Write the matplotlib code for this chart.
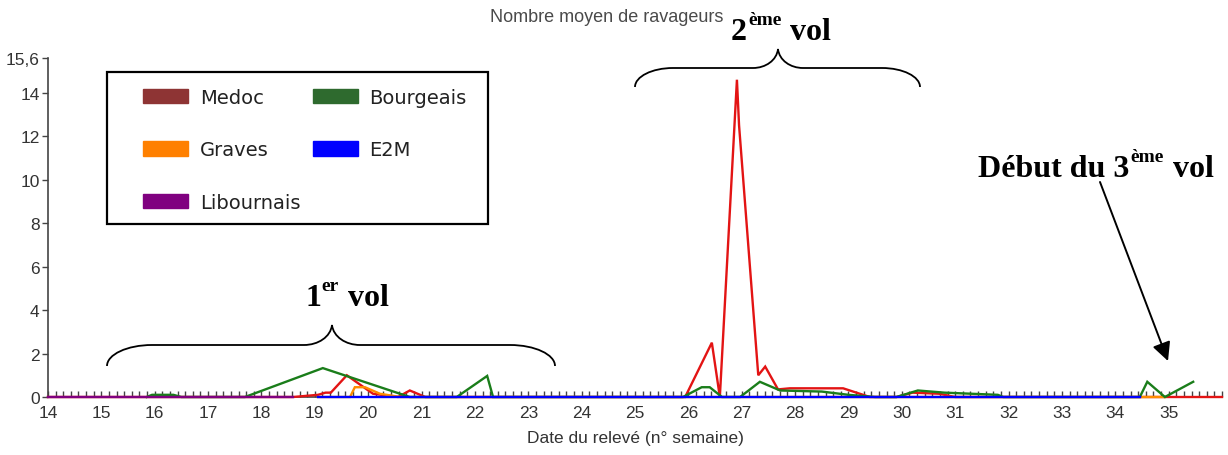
import matplotlib
matplotlib.use('Agg')
import matplotlib.pyplot as plt
from matplotlib.patches import Patch, FancyArrowPatch, PathPatch, Rectangle
from matplotlib.path import Path
from matplotlib.ticker import MultipleLocator

# ---------------- data ----------------
medoc_x = [14.0, 18.59, 19.06, 19.2, 19.3, 19.6, 20.09, 20.56, 20.78, 21.07,
           25.94, 26.44, 26.59, 26.91, 26.95, 27.31, 27.44, 27.68, 27.9, 28.9,
           29.4, 29.9, 30.2, 30.7, 31.0, 36.0]
medoc_y = [0, 0, 0.1, 0.2, 0.2, 1.0, 0.15, 0.0, 0.3, 0.0,
           0.0, 2.5, 0.0, 14.6, 12.5, 1.0, 1.4, 0.35, 0.4, 0.4,
           0.0, 0.0, 0.2, 0.15, 0.0, 0.0]

bourgeais_x = [15.85, 15.95, 16.35, 16.5, 17.69, 19.15, 20.78, 21.66, 22.23, 22.34,
               25.9, 26.25, 26.4, 26.63, 26.97, 27.34, 27.72, 28.5, 29.0, 29.5,
               29.9, 30.3, 30.8, 31.8, 31.9, 34.46, 34.6, 34.93, 35.46]
bourgeais_y = [0, 0.1, 0.1, 0, 0, 1.33, 0, 0, 0.97, 0,
               0, 0.45, 0.45, 0, 0, 0.7, 0.3, 0.25, 0.1, 0,
               0, 0.3, 0.2, 0.1, 0, 0, 0.7, 0, 0.7]

graves_x = [19.06, 19.66, 19.75, 19.94, 20.22, 20.6, 34.93]
graves_y = [0, 0, 0.45, 0.45, 0.15, 0, 0]

e2m_x = [19.06, 34.46]
e2m_y = [0, 0]

libournais_x = [14.0, 18.59]
libournais_y = [0, 0]

series_names = ['Medoc', 'Graves', 'Bourgeais', 'Libournais', 'E2M']
line_colors = ['#E31414', '#FF8C00', '#1A7D1A', '#800080', '#0000FF']
legend_colors = {'Medoc': '#8E3434', 'Bourgeais': '#2E6A2E', 'Graves': '#FF8000',
                 'E2M': '#0000FF', 'Libournais': '#800080'}
legend_order = ['Medoc', 'Graves', 'Libournais', 'Bourgeais', 'E2M']

y_ticks = [0, 2, 4, 6, 8, 10, 12, 14, 15.6]
y_ticklabels = ['0', '2', '4', '6', '8', '10', '12', '14', '15,6']
x_ticks = list(range(14, 36))

# ---------------- figure ----------------
W, H = 1228, 456
fig = plt.figure(figsize=(W / 100, H / 100), dpi=100)
fig.patch.set_facecolor('white')

def fx(px):
    return px / W

def fy(py):
    return 1 - py / H

ax = fig.add_axes([fx(48), fy(398), (1222 - 48) / W, (398 - 59) / H])

data = {
    'Medoc': (medoc_x, medoc_y),
    'Graves': (graves_x, graves_y),
    'Bourgeais': (bourgeais_x, bourgeais_y),
    'Libournais': (libournais_x, libournais_y),
    'E2M': (e2m_x, e2m_y),
}
for i, (name, col) in enumerate(zip(series_names, line_colors)):
    xs, ys = data[name]
    ax.plot(xs, ys, color=col, lw=1.7, clip_on=False, zorder=3 + i,
            solid_joinstyle='miter')

ax.set_xlim(14, 36)
ax.set_ylim(0, 15.6)
for s in ['top', 'right']:
    ax.spines[s].set_visible(False)
for s in ['left', 'bottom']:
    ax.spines[s].set_color('#444444')
    ax.spines[s].set_linewidth(1.2)

ax.set_xticks(x_ticks)
ax.set_xticklabels([str(t) for t in x_ticks])
ax.xaxis.set_minor_locator(MultipleLocator(1 / 7))
ax.set_yticks(y_ticks)
ax.set_yticklabels(y_ticklabels)
ax.tick_params(axis='x', which='both', direction='in', length=4, width=1,
               color='#444444', labelsize=12.5, labelcolor='#333333', pad=6)
ax.tick_params(axis='y', which='both', direction='out', length=4, width=1,
               color='#444444', labelsize=12.5, labelcolor='#333333', pad=2)
for lab in ax.get_xticklabels() + ax.get_yticklabels():
    lab.set_family('Liberation Sans')

ax.set_xlabel('Date du relevé (n° semaine)', fontsize=12.5, color='#333333',
              family='Liberation Sans', labelpad=7)

fig.text(fx(607), fy(18), 'Nombre moyen de ravageurs', ha='center', va='center',
         fontsize=13, color='#4a4a4a', family='Liberation Sans')

# ---------------- legend ----------------
fs = 14
fspx = fs * 100 / 72
handles = [Patch(facecolor=legend_colors[n], edgecolor=legend_colors[n]) for n in legend_order]
leg = ax.legend(handles, legend_order, ncol=2, loc='upper left',
                bbox_to_anchor=(fx(143), fy(89)), bbox_transform=fig.transFigure,
                frameon=False, borderpad=0, borderaxespad=0,
                prop={'family': 'DejaVu Sans', 'size': fs},
                handlelength=45 / fspx, handleheight=15 / fspx,
                labelspacing=1.72, handletextpad=0.6, columnspacing=0.65)
for t in leg.get_texts():
    t.set_color('#222222')
fig.add_artist(Rectangle((fx(107), fy(225)), (488 - 107) / W, (225 - 73) / H,
                         transform=fig.transFigure, fill=False, lw=1.6,
                         ec='black'))

# ---------------- braces ----------------
def brace(x0, x1, xm, ye, yf, yt, r, r2):
    v = [
        (x0, ye),
        (x0, ye - 0.55 * (ye - yf)), (x0 + 0.45 * r, yf), (x0 + r, yf),
        (xm - r2, yf),
        (xm - 0.5 * r2, yf), (xm - 0.05 * r2, yf - 0.4 * (yf - yt)), (xm, yt),
        (xm + 0.05 * r2, yf - 0.4 * (yf - yt)), (xm + 0.5 * r2, yf), (xm + r2, yf),
        (x1 - r, yf),
        (x1 - 0.45 * r, yf), (x1, ye - 0.55 * (ye - yf)), (x1, ye),
    ]
    codes = [Path.MOVETO, Path.CURVE4, Path.CURVE4, Path.CURVE4, Path.LINETO,
             Path.CURVE4, Path.CURVE4, Path.CURVE4,
             Path.CURVE4, Path.CURVE4, Path.CURVE4, Path.LINETO,
             Path.CURVE4, Path.CURVE4, Path.CURVE4]
    verts = [(fx(a), fy(b)) for a, b in v]
    p = PathPatch(Path(verts, codes), transform=fig.transFigure, fill=False,
                  lw=1.3, ec='black')
    fig.add_artist(p)

brace(107, 555, 332, 367, 346, 326, 45, 28)
brace(635, 920, 778, 88, 69, 50, 38, 25)

# ---------------- annotations with superscripts ----------------
renderer = fig.canvas.get_renderer()

def sup_text(xl, base_y, main, sup, tail, size=23, ssize=14, rise=15):
    kw = dict(family='Liberation Serif', weight='bold', color='black',
              va='baseline', ha='left')
    t1 = fig.text(fx(xl), fy(base_y), main, fontsize=size, **kw)
    bb = t1.get_window_extent(renderer)
    x2 = bb.x1 + 1
    t2 = fig.text(x2 / W, fy(base_y - rise), sup, fontsize=ssize, **kw)
    bb2 = t2.get_window_extent(renderer)
    fig.text((bb2.x1 + 1) / W, fy(base_y), tail, fontsize=size, **kw)

sup_text(731, 40, '2', 'ème', ' vol')
sup_text(305, 306, '1', 'er', ' vol')
sup_text(978, 177, 'Début du 3', 'ème', ' vol')

arrow = FancyArrowPatch((fx(1100), fy(183)), (fx(1168), fy(362)),
                        transform=fig.transFigure, arrowstyle='-|>',
                        mutation_scale=28, lw=1.4, color='black',
                        shrinkA=0, shrinkB=0)
fig.add_artist(arrow)

fig.savefig('out.png', dpi=100)
